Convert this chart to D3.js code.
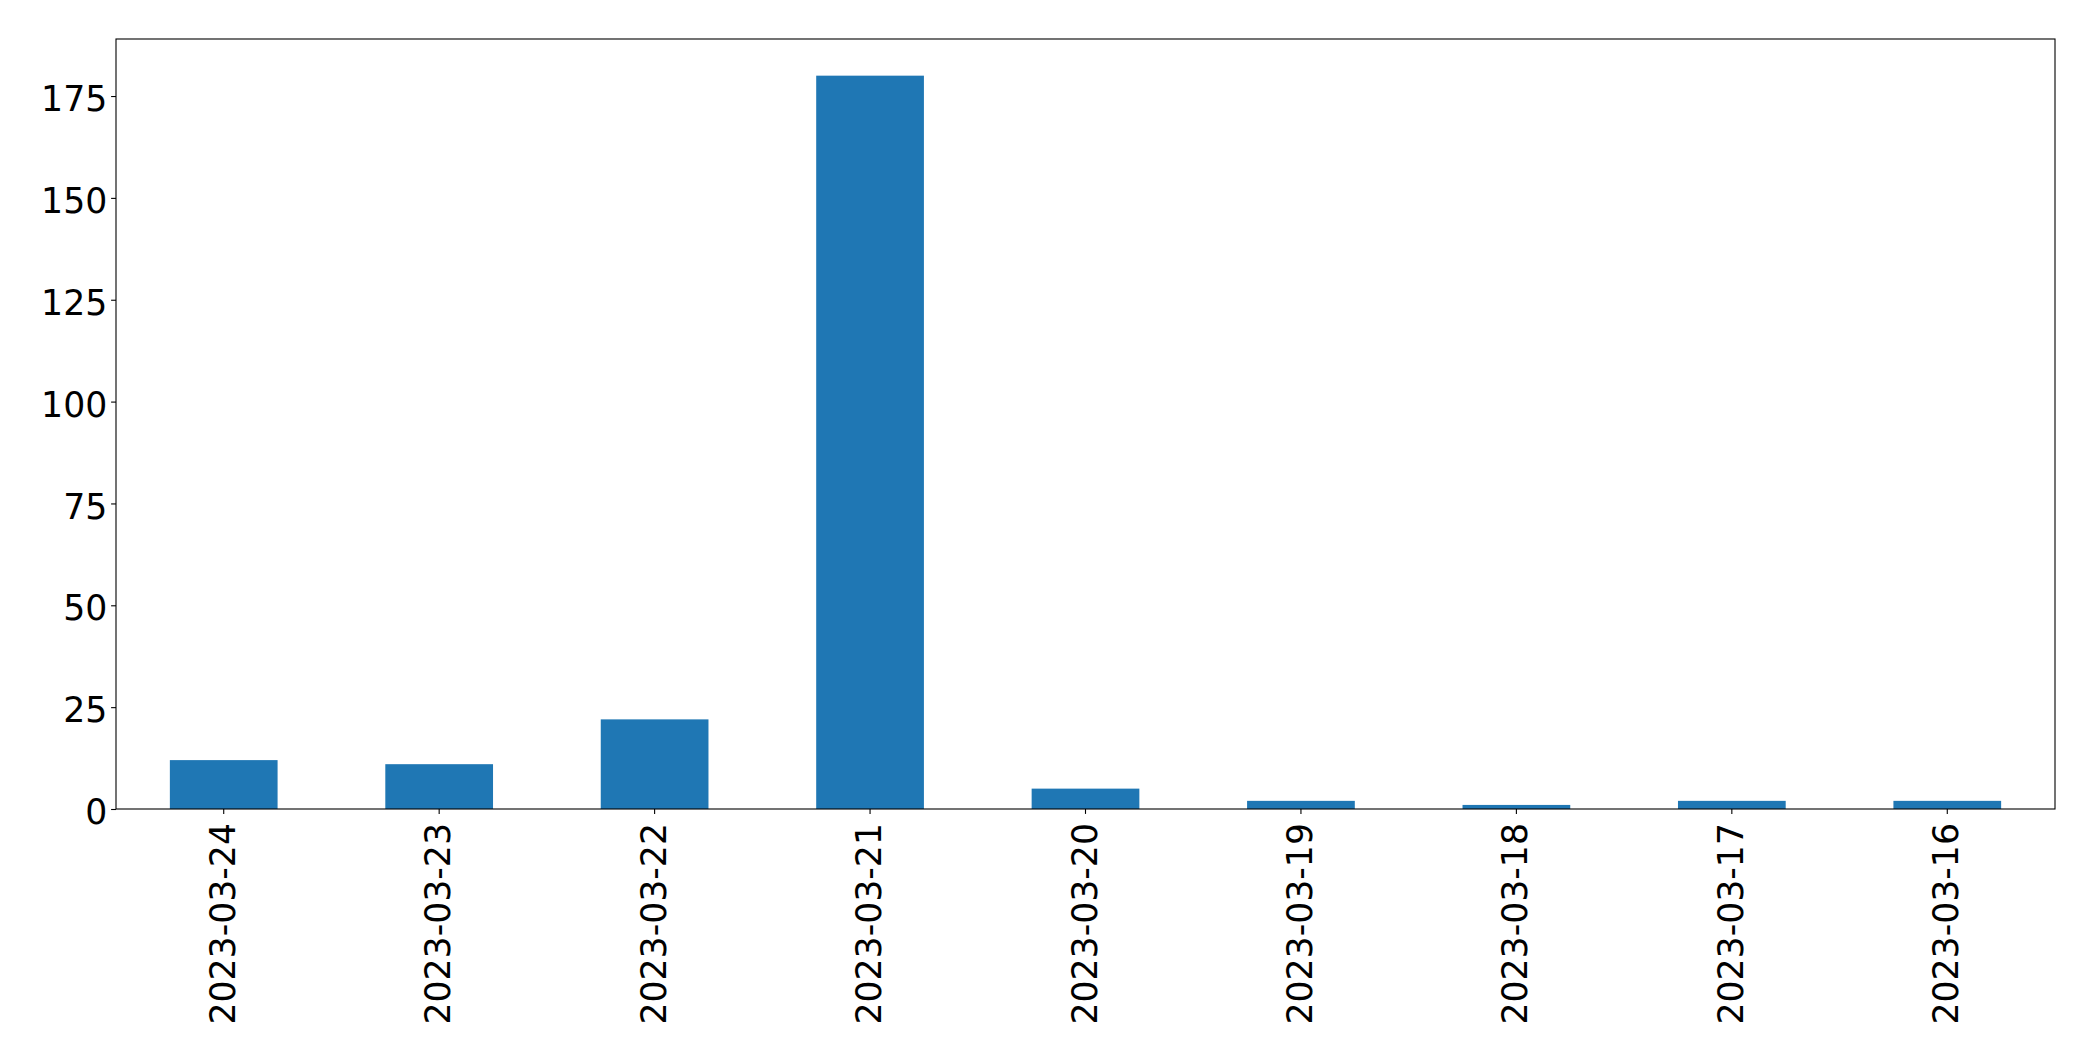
<!DOCTYPE html>
<html>
<head>
<meta charset="utf-8">
<script src="https://cdn.jsdelivr.net/npm/d3@7"></script>
<style>
  html, body { margin: 0; padding: 0; background: #fff; }
  svg { display: block; }
  text { font-family: "DejaVu Sans", sans-serif; }
</style>
</head>
<body>
<script>
const categories = ["2023-03-24", "2023-03-23", "2023-03-22", "2023-03-21", "2023-03-20", "2023-03-19", "2023-03-18", "2023-03-17", "2023-03-16"];
const values = [12, 11, 22, 180, 5, 2, 1, 2, 2];
const yTicks = [0, 25, 50, 75, 100, 125, 150, 175];

const W = 2093, H = 1061;
const margin = { left: 116, right: W - 2055, top: 39, bottom: H - 809 };
const innerW = W - margin.left - margin.right;
const innerH = H - margin.top - margin.bottom;
const fontPx = "34.7px";

const svg = d3.select("body").append("svg").attr("width", W).attr("height", H);
const g = svg.append("g").attr("transform", `translate(${margin.left},${margin.top})`);

const x = d3.scaleBand().domain(categories).range([0, innerW]).paddingInner(0.5).paddingOuter(0.25);
const y = d3.scaleLinear().domain([0, d3.max(values) * 1.05]).range([innerH, 0]);

g.selectAll("rect.bar").data(values).join("rect")
  .attr("class", "bar")
  .attr("x", (d, i) => x(categories[i]))
  .attr("width", x.bandwidth())
  .attr("y", d => y(d))
  .attr("height", d => innerH - y(d))
  .attr("fill", "#1f77b4");

const yAxis = g.append("g").call(d3.axisLeft(y).tickValues(yTicks).tickSize(4.9).tickPadding(3.8).tickFormat(d3.format("d")));
const xAxis = g.append("g").attr("transform", `translate(0,${innerH})`).call(d3.axisBottom(x).tickSize(4.9).tickPadding(6));

[xAxis, yAxis].forEach(a => {
  a.selectAll("path.domain").remove();
  a.selectAll("line").attr("stroke", "#000").attr("stroke-width", 1.1);
  a.selectAll("text").attr("fill", "#000").style("font-size", fontPx).style("font-family", "DejaVu Sans, sans-serif");
});
yAxis.selectAll("text").attr("dy", "0.42em");
xAxis.selectAll("text")
  .attr("transform", "rotate(-90)")
  .attr("text-anchor", "end")
  .attr("x", -14)
  .attr("y", 0)
  .attr("dy", "0.32em");

g.append("rect").attr("x", 0).attr("y", 0).attr("width", innerW).attr("height", innerH)
  .attr("fill", "none").attr("stroke", "#000").attr("stroke-width", 1.1);
</script>
</body>
</html>
